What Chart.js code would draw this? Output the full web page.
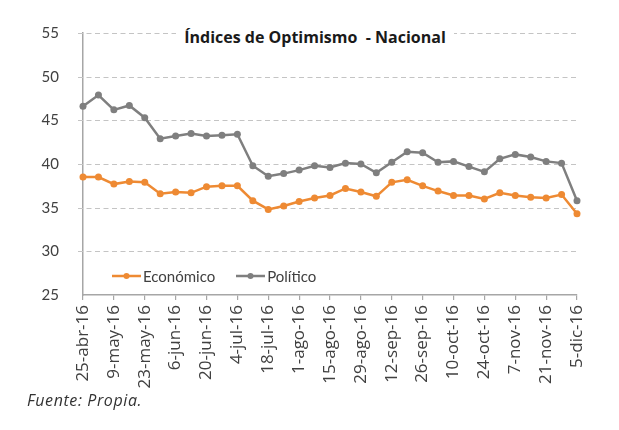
<!DOCTYPE html>
<html>
<head>
<meta charset="utf-8">
<script src="https://cdn.jsdelivr.net/npm/chart.js@4/dist/chart.umd.min.js"></script>
<style>
  html, body { margin: 0; padding: 0; background: #fff; }
  #wrap { position: relative; width: 619px; height: 430px; overflow: hidden; }
  #title { position: absolute; top: 26px; left: 0; width: 630px; text-align: center; font: bold 16px "Open Sans", sans-serif; color: #1a1a1a; }
  #title span { background: #fff; padding: 0 8px; }
  #legend { position: absolute; top: 265px; left: 112px; font: 15px Lato, sans-serif; color: #404040; white-space: nowrap; }
  #legend .item { display: inline-flex; align-items: center; margin-right: 21px; }
  #legend svg { margin-right: 2px; }
  #source { position: absolute; left: 27px; top: 389px; font: italic 16px "Open Sans", sans-serif; letter-spacing: 0.6px; color: #333; }
</style>
</head>
<body>
<div id="wrap">
  <canvas id="c" width="619" height="430"></canvas>
  <div id="title"><span>Índices de Optimismo&nbsp; - Nacional</span></div>
  <div id="legend"></div>
  <div id="source">Fuente: Propia.</div>
</div>
<script>
const labels = ["25-abr-16","2-may-16","9-may-16","16-may-16","23-may-16","30-may-16","6-jun-16","13-jun-16","20-jun-16","27-jun-16","4-jul-16","11-jul-16","18-jul-16","25-jul-16","1-ago-16","8-ago-16","15-ago-16","22-ago-16","29-ago-16","5-sep-16","12-sep-16","19-sep-16","26-sep-16","3-oct-16","10-oct-16","17-oct-16","24-oct-16","31-oct-16","7-nov-16","14-nov-16","21-nov-16","28-nov-16","5-dic-16"];
const economico = [38.5,38.5,37.7,38.0,37.9,36.6,36.8,36.7,37.4,37.5,37.5,35.8,34.8,35.2,35.7,36.1,36.4,37.2,36.8,36.3,37.9,38.2,37.5,36.9,36.4,36.4,36.0,36.7,36.4,36.2,36.1,36.5,34.3];
const politico = [46.6,47.9,46.2,46.7,45.3,42.9,43.2,43.5,43.2,43.3,43.4,39.8,38.6,38.9,39.3,39.8,39.6,40.1,40.0,39.0,40.2,41.4,41.3,40.2,40.3,39.7,39.1,40.6,41.1,40.8,40.3,40.1,35.8];
const seriesNames = ["Económico","Político"];
const seriesColors = ["#EE8A33","#7F7F7F"];
const yTicks = [25,30,35,40,45,50,55];

Chart.defaults.font.family = "Lato, sans-serif";

const legendEl = document.getElementById('legend');
seriesNames.forEach((n, i) => {
  const it = document.createElement('span');
  it.className = 'item';
  it.innerHTML = '<svg width="29" height="8"><line x1="0" y1="4" x2="29" y2="4" stroke="' + seriesColors[i] + '" stroke-width="2.5"/><circle cx="14.5" cy="4" r="3" fill="' + seriesColors[i] + '"/></svg>' + n;
  legendEl.appendChild(it);
});

const dashedGrid = {
  id: 'dashedGrid',
  beforeDatasetsDraw(chart) {
    const { ctx, chartArea, scales: { y } } = chart;
    ctx.save();
    ctx.strokeStyle = '#C4C4C4';
    ctx.lineWidth = 1;
    ctx.setLineDash([5, 3.5]);
    y.ticks.forEach(t => {
      if (t.value === y.min) return;
      const py = Math.round(y.getPixelForValue(t.value)) + 0.5;
      ctx.beginPath();
      ctx.moveTo(chartArea.left - 5, py);
      ctx.lineTo(chartArea.right, py);
      ctx.stroke();
    });
    ctx.restore();
  }
};

new Chart(document.getElementById('c'), {
  type: 'line',
  data: {
    labels: labels,
    datasets: [
      { label: seriesNames[0], data: economico, borderColor: seriesColors[0], backgroundColor: seriesColors[0], borderWidth: 2.5, pointRadius: 3.5, pointBorderWidth: 0, tension: 0 },
      { label: seriesNames[1], data: politico, borderColor: seriesColors[1], backgroundColor: seriesColors[1], borderWidth: 2.5, pointRadius: 3.5, pointBorderWidth: 0, tension: 0 }
    ]
  },
  options: {
    responsive: false,
    animation: false,
    layout: { padding: { top: 33, right: 42, bottom: 0, left: 0 } },
    plugins: { legend: { display: false }, tooltip: { enabled: false }, title: { display: false } },
    scales: {
      x: {
        type: 'category',
        offset: false,
        afterFit: s => { s.height = 135; },
        border: { display: true, color: '#A6A6A6', width: 1.5 },
        grid: {
          drawOnChartArea: false,
          drawTicks: true,
          tickLength: 5,
          tickColor: ctx => (ctx.index % 2 === 0 ? '#A6A6A6' : 'rgba(0,0,0,0)'),
          lineWidth: 1.2
        },
        ticks: {
          autoSkip: false,
          maxRotation: 90,
          minRotation: 90,
          padding: 5,
          color: '#404040',
          font: { size: 17, family: '"Open Sans", sans-serif' },
          callback: (v, i) => (i % 2 === 0 ? labels[i] : '')
        }
      },
      y: {
        min: yTicks[0],
        max: yTicks[yTicks.length - 1],
        afterFit: s => { s.width = 83; },
        afterBuildTicks: s => { s.ticks = yTicks.map(v => ({ value: v })); },
        border: { display: true, color: '#A6A6A6', width: 1.5 },
        grid: {
          display: false
        },
        ticks: { padding: 16, color: '#404040', font: { size: 15 } }
      }
    }
  },
  plugins: [dashedGrid]
});
</script>
</body>
</html>
